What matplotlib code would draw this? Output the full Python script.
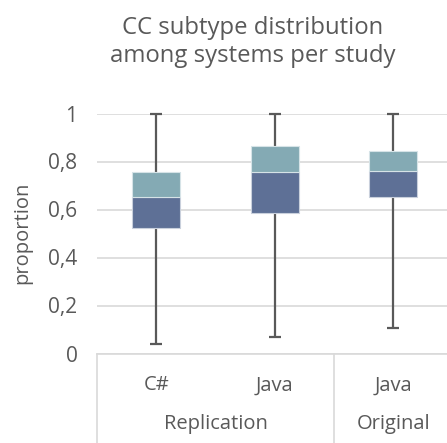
import matplotlib
matplotlib.use("Agg")
import matplotlib.pyplot as plt
import numpy as np

# box plot values per category (Excel-style stacked bars)
categories = ["C#", "Java", "Java"]
groups = ["Replication", "Original"]
group_sizes = [2, 1]
whisker_min = [0.038, 0.070, 0.107]
q1 = [0.523, 0.584, 0.651]
median = [0.652, 0.755, 0.759]
q3 = [0.756, 0.866, 0.845]
whisker_max = [1.0, 1.0, 1.0]
yticks = [0, 0.2, 0.4, 0.6, 0.8, 1]
ytick_labels = ["0", "0,2", "0,4", "0,6", "0,8", "1"]

plt.rcParams['font.family'] = ['Open Sans', 'DejaVu Sans']
text_color = "#595959"
grid_color = "#d9d9d9"

W, H = 447, 443
fig = plt.figure(figsize=(W / 100, H / 100), dpi=100)
# plot area in pixels: left 97, right 447, top 113.5, bottom 353.5
ax = fig.add_axes([97 / W, (H - 353.5) / H, (447 - 97) / W, (353.5 - 113.5) / H])

x = np.arange(len(categories))
cat_px = 118.5
ax.set_xlim(-0.5, -0.5 + 350 / cat_px)
ax.set_ylim(0, 1)

# whiskers behind the boxes
ax.vlines(x, whisker_min, whisker_max, color=text_color, lw=1.6, zorder=2, clip_on=False)
cap = 0.05
ax.hlines(whisker_min, x - cap, x + cap, color=text_color, lw=1.6, zorder=2, clip_on=False)
ax.hlines(whisker_max, x - cap, x + cap, color=text_color, lw=1.6, zorder=2, clip_on=False)

lower = np.array(median) - np.array(q1)
upper = np.array(q3) - np.array(median)
ax.bar(x, lower, bottom=q1, width=0.405, color="#5e7096", edgecolor="#c9d0dc", lw=0.8, zorder=3)
ax.bar(x, upper, bottom=median, width=0.405, color="#84aab4", edgecolor="#d6e3e7", lw=0.8, zorder=3)

ax.set_yticks(yticks)
ax.set_yticklabels(ytick_labels)
ax.tick_params(axis='y', length=0, pad=14, labelsize=15, labelcolor=text_color)
ax.set_xticks([])
ax.yaxis.grid(True, color=grid_color, lw=1.2)
ax.set_axisbelow(True)
for s in ax.spines.values():
    s.set_visible(False)

# multi-level category axis
trans = ax.get_xaxis_transform()
ax.plot([-0.5, 2.6], [0, 0], color=grid_color, lw=1.2, transform=trans, clip_on=False)
bounds = [-0.5]
for n in group_sizes:
    bounds.append(bounds[-1] + n)
for b in bounds:
    ax.plot([b, b], [0, -90 / 240], color=grid_color, lw=1.2, transform=trans, clip_on=False)
for xi, c in zip(x, categories):
    ax.text(xi, -32 / 240, c, transform=trans, ha='center', va='center', fontsize=14.5, color=text_color)
for i, g in enumerate(groups):
    ax.text((bounds[i] + bounds[i + 1]) / 2, -70 / 240, g, transform=trans,
            ha='center', va='center', fontsize=14.5, color=text_color)

fig.text(22 / W, 1 - 233 / H, "proportion", rotation=90, ha='center', va='center',
         fontsize=14.5, color=text_color)
fig.text(253 / W, 1 - 42 / H, "CC subtype distribution\namong systems per study",
         ha='center', va='center', fontsize=17.2, color=text_color, linespacing=1.2)

fig.savefig("out.png", dpi=100)
